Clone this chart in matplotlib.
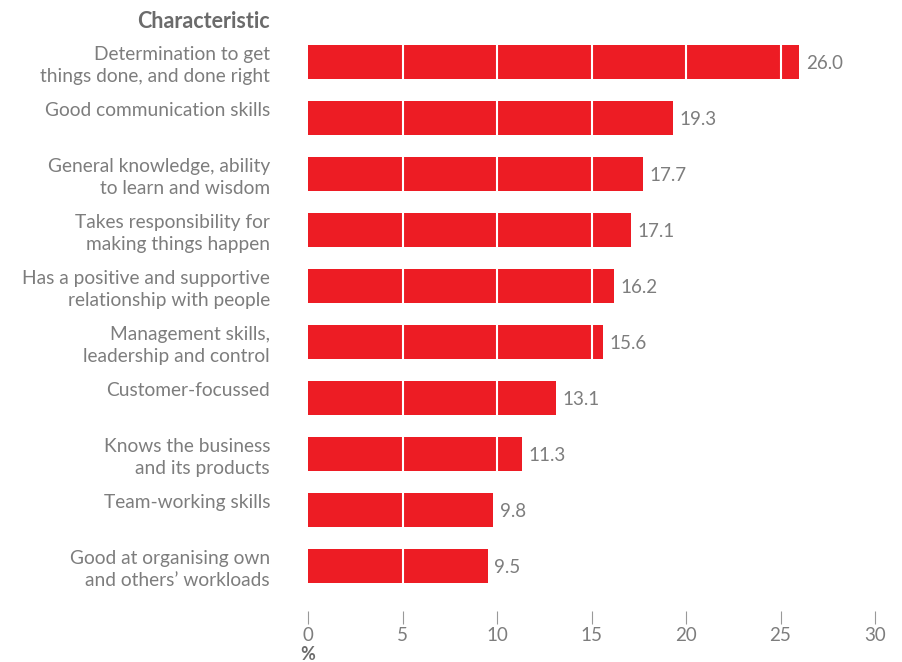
import numpy as np
import matplotlib.pyplot as plt

characteristics = [
    "Determination to get\nthings done, and done right",
    "Good communication skills",
    "General knowledge, ability\nto learn and wisdom",
    "Takes responsibility for\nmaking things happen",
    "Has a positive and supportive\nrelationship with people",
    "Management skills,\nleadership and control",
    "Customer-focussed",
    "Knows the business\nand its products",
    "Team-working skills",
    "Good at organising own\nand others\u2019 workloads",
]
percent = [26.0, 19.3, 17.7, 17.1, 16.2, 15.6, 13.1, 11.3, 9.8, 9.5]
x_ticks = [0, 5, 10, 15, 20, 25, 30]

plt.rcParams['font.family'] = ['Lato', 'DejaVu Sans']

red = '#ed1c24'
grey = '#7d7d7d'

fig = plt.figure(figsize=(9.02, 6.62), dpi=100)
ax = fig.add_axes([308 / 902, 1 - 594 / 662, 567 / 902, 560 / 662])

y = np.arange(len(percent))
ax.barh(y, percent, height=0.59, color=red, zorder=1)

# white guide lines run through the bars
for t in x_ticks[1:-1]:
    ax.axvline(t, color='white', linewidth=1.5, zorder=2)

ax.set_xlim(0, 30)
ax.set_ylim(len(percent) - 0.5, -0.5)

for s in ax.spines.values():
    s.set_visible(False)
ax.spines['bottom'].set_position(('outward', 12))
ax.set_xticks(x_ticks)
ax.tick_params(axis='x', length=9, width=0.8, color='#999999',
               labelcolor=grey, labelsize=13.5, pad=3)
ax.set_yticks([])

# category labels, top aligned within each row
for yi, lab in zip(y, characteristics):
    ax.text(-38 / 567, yi - 0.28, lab, transform=ax.get_yaxis_transform(),
            ha='right', va='top', fontsize=13.8, color=grey, linespacing=1.3)

for yi, v in zip(y, percent):
    ax.text(v + 0.35, yi + 0.03, f"{v:.1f}", ha='left', va='center',
            fontsize=13.5, color=grey)

fig.text(270 / 902, 1 - 22 / 662, "Characteristic", ha='right', va='center',
         fontsize=15.5, fontweight='bold', color='#6b6b6b')
fig.text(308 / 902, 1 - 655 / 662, "%", ha='center', va='center',
         fontsize=13, fontweight='bold', color='#6b6b6b')

plt.savefig("out.png", dpi=100)
